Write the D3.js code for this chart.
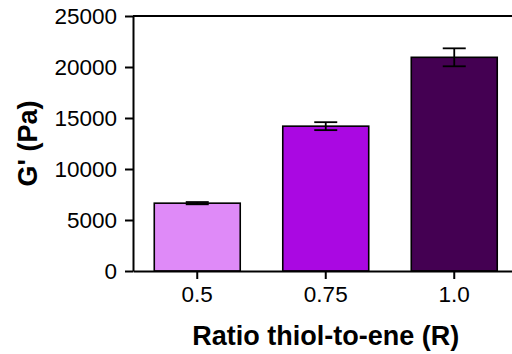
<!DOCTYPE html>
<html>
<head>
<meta charset="utf-8">
<script src="https://cdn.jsdelivr.net/npm/d3@7"></script>
<style>
  html, body { margin: 0; padding: 0; background: #fff; }
  svg { display: block; font-family: "Liberation Sans", Arial, sans-serif; }
</style>
</head>
<body>
<svg id="chart" width="512" height="354"></svg>
<script>
// Storage modulus by thiol-to-ene ratio
const ratios = ["0.5", "0.75", "1.0"];
const modulus = [6650, 14200, 20950];
const modulusErr = [110, 390, 880];
const barColors = ["#df8af8", "#aa08e2", "#440052"];
const yTicks = [0, 5000, 10000, 15000, 20000, 25000];

const svg = d3.select("#chart");
const plotLeft = 133, plotTop = 16, plotBottom = 271, plotRight = 518.5;

const x = d3.scaleBand()
  .domain(ratios)
  .range([plotLeft, plotRight])
  .paddingInner(0.331)
  .paddingOuter(0.1655);

const y = d3.scaleLinear()
  .domain([0, 25000])
  .range([plotBottom, plotTop]);

const rows = ratios.map((r, i) => ({ r, v: modulus[i], e: modulusErr[i], c: barColors[i] }));

// bars
svg.append("g").selectAll("rect")
  .data(rows)
  .join("rect")
  .attr("x", d => x(d.r))
  .attr("y", d => y(d.v))
  .attr("width", x.bandwidth())
  .attr("height", d => y(0) - y(d.v))
  .attr("fill", d => d.c)
  .attr("stroke", "#000")
  .attr("stroke-width", 1.6);

// error bars
const capHalf = 11.5;
const err = svg.append("g").attr("stroke", "#000").attr("stroke-width", 1.8);
rows.forEach(d => {
  const cx = x(d.r) + x.bandwidth() / 2;
  err.append("line").attr("x1", cx).attr("x2", cx).attr("y1", y(d.v + d.e)).attr("y2", y(d.v - d.e));
  err.append("line").attr("x1", cx - capHalf).attr("x2", cx + capHalf).attr("y1", y(d.v + d.e)).attr("y2", y(d.v + d.e));
  err.append("line").attr("x1", cx - capHalf).attr("x2", cx + capHalf).attr("y1", y(d.v - d.e)).attr("y2", y(d.v - d.e));
});

// top frame line
svg.append("line")
  .attr("x1", plotLeft).attr("x2", plotRight)
  .attr("y1", y(25000)).attr("y2", y(25000))
  .attr("stroke", "#000").attr("stroke-width", 2);

// y axis
const yAxis = svg.append("g")
  .attr("transform", `translate(${plotLeft},0)`)
  .call(d3.axisLeft(y).tickValues(yTicks).tickFormat(d3.format("d")).tickSize(8).tickSizeOuter(0).tickPadding(8));
yAxis.selectAll("path, line").attr("stroke", "#000").attr("stroke-width", 2);
yAxis.selectAll("text").attr("font-size", "22.5px").attr("fill", "#000")
  .attr("font-family", "'Liberation Sans', Arial, sans-serif");

// x axis
const xAxis = svg.append("g")
  .attr("transform", `translate(0,${plotBottom})`)
  .call(d3.axisBottom(x).tickSize(8).tickSizeOuter(0).tickPadding(7));
xAxis.selectAll("path, line").attr("stroke", "#000").attr("stroke-width", 2);
xAxis.selectAll("text").attr("font-size", "22.5px").attr("fill", "#000")
  .attr("font-family", "'Liberation Sans', Arial, sans-serif");

// axis titles
svg.append("text")
  .attr("x", (plotLeft + plotRight) / 2)
  .attr("y", 345)
  .attr("text-anchor", "middle")
  .attr("font-size", "27px")
  .attr("font-weight", "bold")
  .text("Ratio thiol-to-ene (R)");

svg.append("text")
  .attr("transform", `translate(28,${(plotTop + plotBottom) / 2}) rotate(-90)`)
  .attr("text-anchor", "middle")
  .attr("dominant-baseline", "central")
  .attr("font-size", "27px")
  .attr("font-weight", "bold")
  .text("G' (Pa)");
</script>
</body>
</html>
